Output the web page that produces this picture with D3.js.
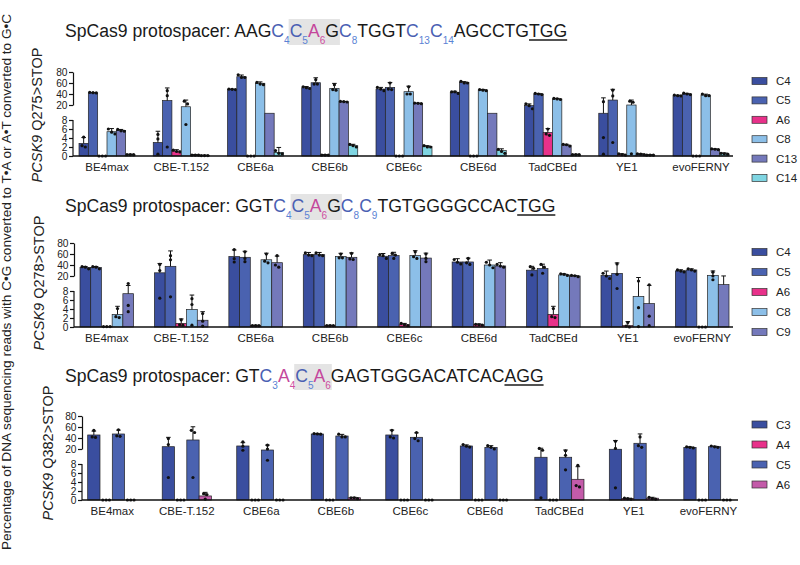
<!DOCTYPE html>
<html><head><meta charset="utf-8">
<script src="https://cdn.jsdelivr.net/npm/d3@7"></script>
<style>body{margin:0;background:#fff}svg{display:block;font-family:"Liberation Sans",Arial,sans-serif}</style>
</head><body><svg id="c" width="800" height="565"></svg>
<script>
const editors = ["BE4max","CBE-T.152","CBE6a","CBE6b","CBE6c","CBE6d","TadCBEd","YE1","evoFERNY"];
const yTicksLow = [0,2,4,6,8];
const yTicksHigh = [20,40,60,80];

// ---- Panel 1: PCSK9 Q275>STOP ----
const p1Series = ["C4","C5","A6","C8","C13","C14"];
const p1Means = [
  [2.8, 3.0, 48.5, 51.5, 49, 43, 19.5, 13.4, 37],
  [42, 28, 71.5, 60.5, 52, 61, 40, 29, 40],
  [0, 1.1, 0, 0.2, 0, 0, 5.2, 0.3, 0],
  [5.4, 18.6, 59.5, 50.3, 44.2, 47.3, 31, 20, 38],
  [5.7, 0.2, 13.4, 26, 23, 13.4, 2.4, 0.4, 1.5],
  [0.3, 0.1, 0.8, 2.3, 2.1, 1.2, 0.3, 0.2, 0.5]
];
const p1Sds = [
  [1.3, 2.5, 0.5, 2, 3, 2, 2.5, 19.6, 0.8],
  [0.5, 23, 3, 9, 9, 1.5, 1, 19.5, 1.2],
  [0, 0.3, 0, 0.1, 0, 0, 0.9, 0.2, 0],
  [0.7, 10.4, 2.5, 9, 10, 1, 1, 9, 1.7],
  [0.2, 0.1, 0, 0.5, 0.5, 0, 0.2, 0.1, 0.1],
  [0.1, 0.1, 1.1, 0.3, 0.2, 0.4, 0.1, 0.1, 0.2]
];
const p1Dots = [
  [[4.2,2.3,2.0],[4.8,3.8,0.4],[48,48.5,49],[53,50,51.5],[52,46,49],[44,41,44],[22,19.5,17],[26,4.1,0.4],[38,37,36.5]],
  [[42,42.5,43],[46,37,2],[75,70,70],[66,58,58],[60,49,48],[63,60,60],[41,40,39],[47,36.5,3],[41.5,40,39]],
  [[0,0,0],[1.3,1.0,0.9],[0,0,0],[0.2,0.2,0.2],[0,0,0],[0,0,0],[6.0,4.9,4.6],[0.5,0.3,0.2],[0,0,0]],
  [[6.0,4.9,5.3],[27,22,7],[61,58,57],[57,48,47],[53,40,40],[48,46,47],[32,31,30],[27,25,0.5],[40,37,37]],
  [[5.9,5.6,5.5],[0.2,0.2,0.2],[],[26.5,26,25.5],[23.5,23,22.5],[],[2.6,2.5,2.2],[0.5,0.4,0.3],[1.6,1.5,1.4]],
  [[0.3,0.3,0.3],[0.1,0.1,0.1],[1.2,0.5,0.6],[2.6,2.3,2.0],[2.3,2.0,2.0],[1.5,1.0,0.6],[0.3,0.3,0.3],[0.2,0.2,0.2],[0.6,0.5,0.4]]
];
const p1Title = [
  {t:"SpCas9 protospacer: AAG"},{t:"C",s:"4",k:"C"},{t:"C",s:"5",k:"C",hl:1},{t:"A",s:"6",k:"A",hl:1},{t:"G",hl:1},
  {t:"C",s:"8",k:"C"},{t:"TGGT"},{t:"C",s:"13",k:"C"},{t:"C",s:"14",k:"C"},{t:"AGCCTG"},{t:"TGG",u:1}
];

// ---- Panel 2: PCSK9 Q278>STOP ----
const p2Series = ["C4","C5","A6","C8","C9"];
const p2Means = [
  [35.3, 25.8, 55.3, 58.8, 55.9, 45.5, 30.6, 21, 29.3],
  [35.3, 37.6, 54, 58.8, 57.1, 45.5, 33.5, 24.8, 31],
  [0.1, 0.8, 0.3, 0.3, 0.5, 0.5, 2.8, 0.3, 0],
  [2.8, 3.9, 49.5, 55.3, 57, 40, 22, 6.8, 21.2],
  [7.4, 1.5, 44.2, 54, 52.6, 38.2, 20, 5.2, 13.1]
];
const p2Sds = [
  [2, 17, 12, 4, 5, 6, 7, 8, 2],
  [2, 28, 11, 4, 6, 7, 8, 19, 2],
  [0, 1.0, 0.1, 0.1, 0.3, 0.2, 1.8, 0.9, 0],
  [1.8, 3.2, 12, 6, 9, 9, 2, 12, 8],
  [5, 1.9, 12, 8, 9, 6, 1, 7.3, 7]
];
const p2Dots = [
  [[37,36,33],[41,30,6.4],[68,51.5,45.5],[62,58,57],[59,57,52],[50,45,42],[37,34,22],[25,20,18],[31,29,27.5]],
  [[37,36,33],[57,49.5,6.7],[64,52,46],[62,58,57],[61,58,52],[52,44,41],[41,36,25],[42,23,10],[33,31,29]],
  [[0.1,0.1,0.1],[1.6,0.5,0.4],[0.3,0.3,0.3],[0.3,0.3,0.3],[0.8,0.5,0.3],[0.6,0.5,0.4],[4.1,2.3,2.1],[1.0,0.2,0],[0,0,0]],
  [[4.1,2.3,2.1],[6.3,5,0.4],[60,47,44],[60,53,53],[64,55,52],[45,40,35],[24,23,21],[16,4.3,0.1],[27,20,17]],
  [[14,4.8,3.4],[3,1.3,0.2],[57,40,36],[61,51,50],[60,52,46],[41,38,36],[21,20.5,19.5],[13,2.4,0.3],[]]
];
const p2Title = [
  {t:"SpCas9 protospacer: GGT"},{t:"C",s:"4",k:"C"},{t:"C",s:"5",k:"C",hl:1},{t:"A",s:"6",k:"A",hl:1},{t:"G",hl:1},
  {t:"C",s:"8",k:"C"},{t:"C",s:"9",k:"C"},{t:"TGTGGGGCCAC"},{t:"TGG",u:1}
];

// ---- Panel 3: PCSK9 Q382>STOP ----
const p3Series = ["C3","A4","C5","A6"];
const p3Means = [
  [45.5, 24.2, 25.5, 47.3, 45.5, 25.5, 13.4, 19.8, 23],
  [0, 0, 0, 0, 0, 0, 0, 0.3, 0],
  [47.3, 36.4, 19.2, 43.6, 41.3, 23, 13.4, 30.4, 24.2],
  [0, 0.9, 0, 0.5, 0, 0, 4.6, 0.4, 0]
];
const p3Sds = [
  [7, 17, 6, 0.5, 9, 2, 8, 15.7, 1],
  [0, 0, 0, 0, 0, 0, 0, 0.1, 0],
  [7, 24, 8, 3, 8, 3, 5.8, 17, 1],
  [0, 0.8, 0, 0.1, 0, 0, 2.8, 0.2, 0]
];
const p3Dots = [
  [[54,42,41],[39,28,5],[33,25,19],[48,47.5,47],[54,42,40],[28,25,23.5],[21,19,0.5],[34,21,2.7],[24,23,22]],
  [[0,0,0],[0,0,0],[0,0,0],[0,0,0],[0,0,0],[0,0,0],[0,0,0],[0.4,0.3,0.2],[0,0,0]],
  [[55,44,43],[54,50,5],[27,20,11],[47,42,42],[50,39,35],[26,23,20],[18.6,15,6.7],[42,26,23],[25.5,24,23]],
  [[0,0,0],[1.4,1.2,0.2],[0,0,0],[0.5,0.5,0.3],[0,0,0],[0,0,0],[7.7,3.2,2.9],[0.6,0.3,0.2],[0,0,0]]
];
const p3Title = [
  {t:"SpCas9 protospacer: GT"},{t:"C",s:"3",k:"C"},{t:"A",s:"4",k:"A"},{t:"C",s:"5",k:"C",hl:1},{t:"A",s:"6",k:"A",hl:1},
  {t:"GAGTGGGACATCAC"},{t:"AGG",u:1}
];

const colorMap = {C4:"#3a4e9f",C5:"#4a62b0",A6:"#e8318a",C8:"#8cbfe8",C13:"#7479bb",C9:"#7479bb",C14:"#7fd5e2",C3:"#3a4e9f",A4:"#e8318a"};
const p3Colors = ["#3a4e9f","#e8318a","#4a62b0","#c35ba9"];

const svg = d3.select("#c");
const FONT = "'Liberation Sans',Arial,sans-serif";

svg.append("text")
  .attr("transform","translate(11,282) rotate(-90)")
  .attr("text-anchor","middle").attr("font-size",13.6).attr("fill","#222")
  .text("Percentage of DNA sequencing reads with C\u2022G converted to T\u2022A or A\u2022T converted to G\u2022C");

function drawTitle(segs, x, base) {
  const g = svg.append("g");
  const hlG = g.append("g");
  let cx = x, h0 = null, h1 = null;
  segs.forEach(s => {
    const col = s.k === "C" ? "#4a5fb3" : s.k === "A" ? "#c4479c" : "#1a1a1a";
    const subCol = s.k === "C" ? "#5a82d4" : "#cf4fa0";
    const sx = cx;
    const t = g.append("text").attr("x", cx).attr("y", base).attr("font-size", 17.6).attr("fill", col).text(s.t);
    cx += t.node().getComputedTextLength();
    if (s.s) {
      const st = g.append("text").attr("x", cx).attr("y", base + 7).attr("font-size", 10).attr("fill", subCol).text(s.s);
      cx += st.node().getComputedTextLength();
    }
    if (s.u) g.append("line").attr("x1", sx).attr("x2", cx).attr("y1", base + 3).attr("y2", base + 3).attr("stroke", "#1a1a1a").attr("stroke-width", 1.3);
    if (s.hl) { if (h0 === null) h0 = sx; h1 = cx; }
  });
  if (h0 !== null) hlG.append("rect").attr("x", h0 - 1).attr("y", base - 18).attr("width", h1 - h0 + 2).attr("height", 26).attr("fill", "#e4e4e4");
}

function drawPanel(cfg) {
  const {series, means, sds, dots, colors, y0, axisX, xr, lineEnd, labelX, labelY, label, legendY, legendStep, titleSegs, titleBase} = cfg;
  const g = svg.append("g");
  const y = d3.scaleLinear().domain([0, 8, 20, 80]).range([y0, y0 - 36, y0 - 51, y0 - 84]);
  const yLow = d3.scaleLinear().domain([0, 8]).range([y0, y0 - 36]);
  const yHigh = d3.scaleLinear().domain([20, 80]).range([y0 - 51, y0 - 84]);
  const x0 = d3.scaleBand().domain(editors).range(xr).paddingInner(cfg.padIn).paddingOuter(0);
  const x1 = d3.scaleBand().domain(series).range([0, x0.bandwidth()]).padding(0);

  drawTitle(titleSegs, 65, titleBase);

  series.forEach((s, si) => {
    editors.forEach((e, ei) => {
      const m = means[si][ei], sd = sds[si][ei], ds = dots[si][ei];
      const bx = x0(e) + x1(s), bw = x1.bandwidth(), cxm = bx + bw / 2;
      if (m > 0) g.append("rect").attr("x", bx).attr("y", y(m)).attr("width", bw).attr("height", y0 - y(m))
        .attr("fill", colors[si]).attr("stroke", "#222").attr("stroke-width", 0.7);
      if (sd > 0) {
        g.append("line").attr("x1", cxm).attr("x2", cxm).attr("y1", y(m)).attr("y2", y(m + sd)).attr("stroke", "#111").attr("stroke-width", 1);
        g.append("line").attr("x1", cxm - 2.3).attr("x2", cxm + 2.3).attr("y1", y(m + sd)).attr("y2", y(m + sd)).attr("stroke", "#111").attr("stroke-width", 1);
      }
      const pts = ds.map(v => ({v, py: y(v)})).sort((a, b) => a.py - b.py);
      const clusters = [];
      pts.forEach(p => {
        const c = clusters.find(c => Math.abs(c[c.length - 1].py - p.py) < 3.2);
        if (c) c.push(p); else clusters.push([p]);
      });
      clusters.forEach(c => c.forEach((p, j) => {
        const off = (j - (c.length - 1) / 2) * 3.3;
        g.append("circle").attr("cx", cxm + off).attr("cy", p.py).attr("r", 1.6).attr("fill", "#111");
      }));
    });
  });

  const aLow = g.append("g").attr("transform", `translate(${axisX},0)`)
    .call(d3.axisLeft(yLow).tickValues(yTicksLow).tickSize(4).tickSizeOuter(0).tickPadding(1.5));
  const aHigh = g.append("g").attr("transform", `translate(${axisX},0)`)
    .call(d3.axisLeft(yHigh).tickValues(yTicksHigh).tickSize(4).tickSizeOuter(0).tickPadding(1.5));
  [aLow, aHigh].forEach(a => {
    a.selectAll("text").attr("font-size", 10.2).attr("fill", "#222").attr("font-family", FONT);
    a.selectAll("line,path").attr("stroke", "#111").attr("stroke-width", 1.2);
  });
  aLow.select(".domain").remove();
  g.append("line").attr("x1", axisX).attr("x2", axisX).attr("y1", y0).attr("y2", y0 - 36).attr("stroke", "#111").attr("stroke-width", 1.2);
  g.append("line").attr("x1", axisX).attr("x2", lineEnd).attr("y1", y0).attr("y2", y0).attr("stroke", "#111").attr("stroke-width", 1.3);

  g.selectAll(".gl").data(editors).enter().append("text")
    .attr("x", d => x0(d) + x0.bandwidth() / 2).attr("y", y0 + 15)
    .attr("text-anchor", "middle").attr("font-size", 11.5).attr("fill", "#222").text(d => d);

  const yl = g.append("text").attr("transform", `translate(${labelX},${labelY}) rotate(-90)`)
    .attr("text-anchor", "middle").attr("font-size", 14.5).attr("fill", "#222");
  yl.append("tspan").attr("font-style", "italic").text("PCSK9");
  yl.append("tspan").text(" " + label);

  const lg = g.append("g");
  series.forEach((s, i) => {
    const ly = legendY + i * legendStep;
    lg.append("rect").attr("x", 752).attr("y", ly - 3.5).attr("width", 15).attr("height", 7)
      .attr("fill", colors[i]).attr("stroke", "#333").attr("stroke-width", 0.7);
    lg.append("text").attr("x", 776).attr("y", ly + 4).attr("font-size", 11.5).attr("fill", "#222").text(s);
  });
}

drawPanel({series: p1Series, means: p1Means, sds: p1Sds, dots: p1Dots, colors: p1Series.map(s => colorMap[s]),
  y0: 156, axisX: 73, xr: [79, 729], padIn: 0.246, lineEnd: 733, labelX: 42, labelY: 115, label: "Q275>STOP",
  legendY: 81, legendStep: 19.4, titleSegs: p1Title, titleBase: 37});
drawPanel({series: p2Series, means: p2Means, sds: p2Sds, dots: p2Dots, colors: p2Series.map(s => colorMap[s]),
  y0: 327, axisX: 74, xr: [80, 729], padIn: 0.28, lineEnd: 733, labelX: 44, labelY: 283, label: "Q278>STOP",
  legendY: 252, legendStep: 20, titleSegs: p2Title, titleBase: 212});
drawPanel({series: p3Series, means: p3Means, sds: p3Sds, dots: p3Dots, colors: p3Colors,
  y0: 500, axisX: 82, xr: [87.7, 733], padIn: 0.34, lineEnd: 738, labelX: 53, labelY: 453, label: "Q382>STOP",
  legendY: 424.5, legendStep: 20, titleSegs: p3Title, titleBase: 382});
</script></body></html>
